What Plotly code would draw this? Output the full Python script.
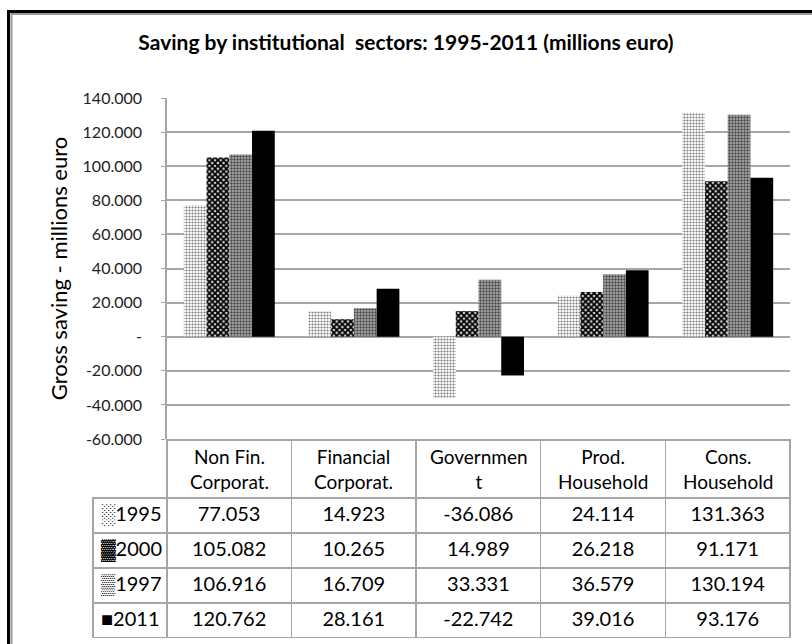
import plotly.graph_objects as go

# sectors and yearly gross saving (millions euro)
sectors = ["Non Fin.<br>Corporat.", "Financial<br>Corporat.", "Governmen<br>t",
           "Prod.<br>Household", "Cons.<br>Household"]
years = ["1995", "2000", "1997", "2011"]
v1995 = [77053, 14923, -36086, 24114, 131363]
v2000 = [105082, 10265, 14989, 26218, 91171]
v1997 = [106916, 16709, 33331, 36579, 130194]
v2011 = [120762, 28161, -22742, 39016, 93176]
swatch = ["\u2591", "\u2593", "\u2592", "\u25a0"]
tick_vals = [-60000, -40000, -20000, 0, 20000, 40000, 60000, 80000, 100000, 120000, 140000]
tick_text = ["-60.000", "-40.000", "-20.000", "-", "20.000", "40.000", "60.000",
             "80.000", "100.000", "120.000", "140.000"]

W, H = 812, 644
FONT = "Lato"
GRID = "#a6a6a6"

def px_x(v):
    return v / W

def px_y(v):
    return 1 - v / H

def fmt(n):
    s = f"{abs(n):,}".replace(",", ".")
    return ("-" if n < 0 else "") + s

# bar looks: light dots, dark crosshatch, medium checker, solid black
looks = [
    dict(color="white", pattern=dict(shape=".", fgcolor="#7a7a7a", bgcolor="white",
                                     size=3, solidity=0.4, fillmode="replace")),
    dict(color="#222", pattern=dict(shape="x", fgcolor="#000", bgcolor="#d8d8d8",
                                    size=4, solidity=0.7, fillmode="replace")),
    dict(color="#888", pattern=dict(shape=".", fgcolor="#4a4a4a", bgcolor="#b4b4b4",
                                    size=3, solidity=0.5, fillmode="replace")),
    dict(color="black"),
]

fig = go.Figure()
series = [v1995, v2000, v1997, v2011]
cats = [s.replace("<br>", " ") for s in sectors]
for yr, vals, lk in zip(years, series, looks):
    fig.add_trace(go.Bar(x=cats, y=vals, name=yr, marker=dict(line=dict(width=0), **lk),
                         showlegend=False))

# data table under the chart (header text added as annotations so lines centre)
cell_vals = [[s + y for s, y in zip(swatch, years)]]
for i in range(len(sectors)):
    cell_vals.append([fmt(s[i]) for s in series])

fig.add_trace(go.Table(
    domain=dict(x=[px_x(93), px_x(790)], y=[px_y(638), px_y(440)]),
    columnwidth=[74, 125, 125, 125, 125, 125],
    header=dict(values=[""] * 6, height=58,
                fill_color=["rgba(0,0,0,0)"] + ["white"] * 5,
                line=dict(color=["rgba(0,0,0,0)"] + [GRID] * 5, width=1.5),
                font=dict(family=FONT, size=19, color="black")),
    cells=dict(values=cell_vals, height=35, align=["left"] + ["center"] * 5,
               fill_color="white", line=dict(color=GRID, width=1.5),
               font=dict(family=FONT, size=20, color="black")),
))

for cat, label in zip(cats, sectors):
    fig.add_annotation(x=cat, xref="x", y=px_y(469), yref="paper", text=label,
                       showarrow=False, align="center", yanchor="middle",
                       font=dict(family=FONT, size=19, color="black"))

fig.update_layout(
    width=W, height=H,
    margin=dict(l=0, r=0, t=0, b=0, autoexpand=False),
    paper_bgcolor="white", plot_bgcolor="white",
    barmode="group", bargap=0.27, bargroupgap=0,
    title=dict(text="<b>Saving by institutional  sectors: 1995-2011 (millions euro)</b>",
               x=0.5, xanchor="center", y=px_y(43), yanchor="middle",
               font=dict(family=FONT, size=21, color="black")),
    xaxis=dict(domain=[px_x(167), px_x(790)], range=[-0.5, 4.5], automargin=False,
               showticklabels=False, showgrid=False, zeroline=False, showline=False),
    yaxis=dict(domain=[px_y(439), px_y(98)], range=[-60000, 140000], automargin=False,
               tickvals=tick_vals, ticktext=tick_text,
               tickfont=dict(family=FONT, size=16, color="#222"),
               ticks="outside", ticklen=4, tickcolor=GRID, ticklabelstandoff=16,
               showgrid=True, gridcolor=GRID, gridwidth=1.5, zeroline=False,
               showline=True, linecolor=GRID, linewidth=1.5,
               title=dict(text="Gross saving - millions euro", standoff=9,
                          font=dict(family=FONT, size=22, color="black"))),
    shapes=[
        dict(type="rect", xref="paper", yref="paper", x0=px_x(8.5), y0=px_y(11.5),
             x1=1.1, y1=-0.1, line=dict(color="black", width=3)),
        dict(type="rect", xref="paper", yref="paper", x0=px_x(11.5), y0=px_y(14),
             x1=1.1, y1=-0.1, line=dict(color="#9a9a9a", width=2)),
    ],
)

fig.write_html("out.html", config={"displayModeBar": False},
               post_script="document.body.style.margin='0';")
